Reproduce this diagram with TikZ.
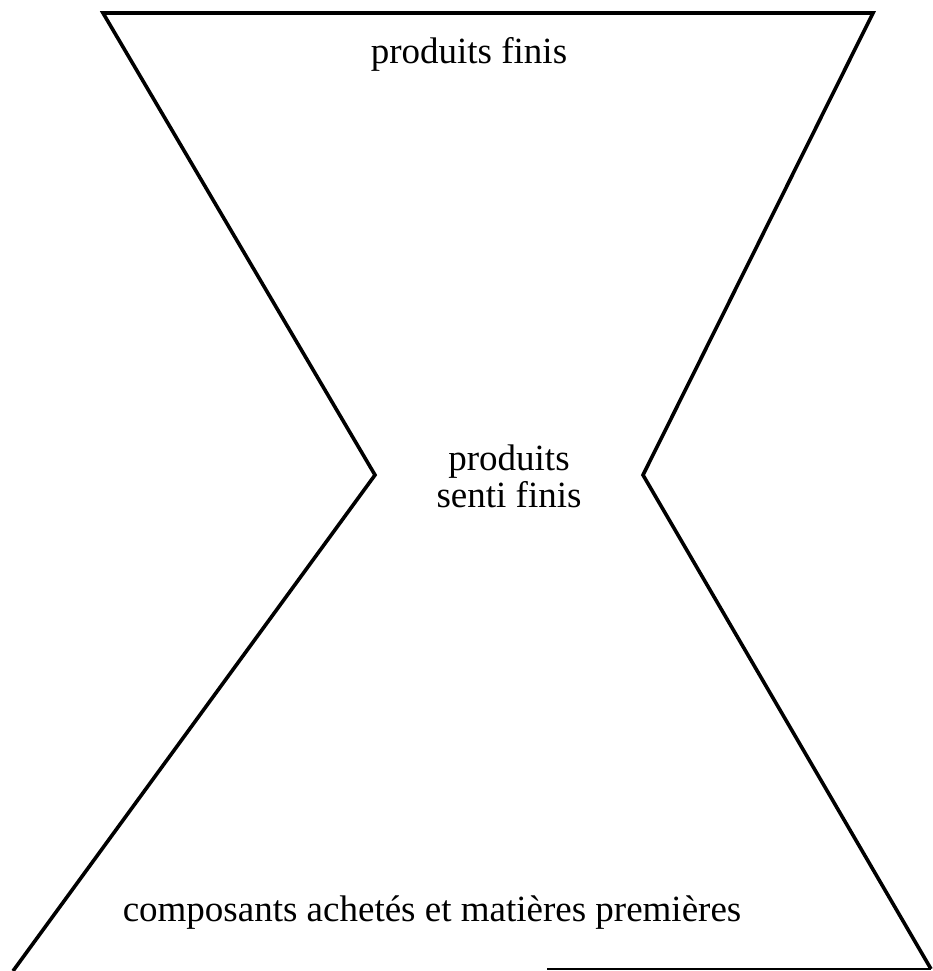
\documentclass[tikz,border=0pt]{standalone}
\usepackage{fontspec}
\setmainfont{Liberation Serif}
\begin{document}
\begin{tikzpicture}[x=1pt,y=-1pt,
  outline/.style={line width=3.6pt,line join=miter},
  thinedge/.style={line width=1.2pt},
  label/.style={font=\fontsize{37}{37}\selectfont,align=center,inner sep=0pt}]
\useasboundingbox (0,0) rectangle (933,971);
% hourglass outline
\coordinate (tl) at (103,13);
\coordinate (tr) at (873,13);
\coordinate (ml) at (375,475);
\coordinate (mr) at (643,475);
\coordinate (bl) at (13,971);
\coordinate (br) at (931,969);
\coordinate (bm) at (547,969);
\draw[outline] (bl) -- (ml) -- (tl) -- (tr) -- (mr) -- (br);
\draw[thinedge] (bm) -- (br);
% labels
\node[label] (top) at (469,54) {produits finis};
\node[label] (mid) at (509,476) {produits\\senti finis};
\node[label] (bot) at (432,913) {composants achetés et matières premières};
\end{tikzpicture}
\end{document}
